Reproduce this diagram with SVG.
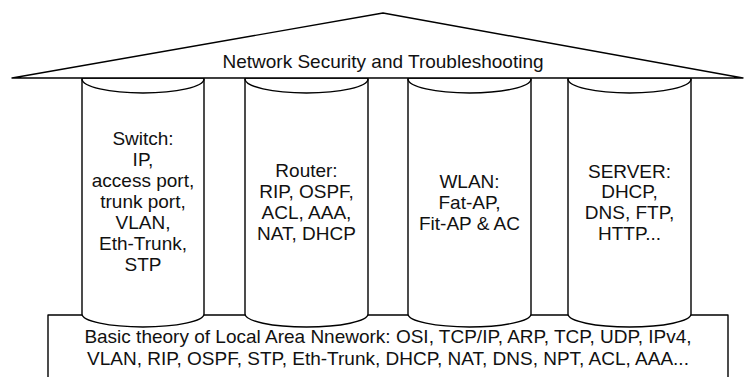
<svg xmlns="http://www.w3.org/2000/svg" width="745" height="377" viewBox="0 0 745 377">
<style>
.s{fill:#fff;stroke:#000;stroke-width:1.4;stroke-linejoin:round}
.a{fill:none;stroke:#000;stroke-width:1.4}
text{font-family:"Liberation Sans",Arial,sans-serif;font-size:19px;fill:#111;text-anchor:middle}
</style>
<rect width="745" height="377" fill="#fff"/>
<g id="base">
<rect class="s" x="48" y="315" width="680" height="80"/>
<text x="388" y="343">Basic theory of Local Area Nnework: OSI, TCP/IP, ARP, TCP, UDP, IPv4,</text>
<text x="388" y="365">VLAN, RIP, OSPF, STP, Eth-Trunk, DHCP, NAT, DNS, NPT, ACL, AAA...</text>
</g>
<g id="switch">
<path class="s" d="M82,78 L82,314 A61,13 0 0 0 204,314 L204,78 Z"/>
<path class="a" d="M82,79 A61,14 0 0 0 204,79"/>
<text x="143" y="145">Switch:</text>
<text x="143" y="166">IP,</text>
<text x="143" y="187">access port,</text>
<text x="143" y="208">trunk port,</text>
<text x="143" y="229">VLAN,</text>
<text x="143" y="250">Eth-Trunk,</text>
<text x="143" y="271">STP</text>
</g>
<g id="router">
<path class="s" d="M245,78 L245,314 A61.5,13 0 0 0 368,314 L368,78 Z"/>
<path class="a" d="M245,79 A61.5,14 0 0 0 368,79"/>
<text x="306.5" y="177">Router:</text>
<text x="306.5" y="198">RIP, OSPF,</text>
<text x="306.5" y="219">ACL, AAA,</text>
<text x="306.5" y="240">NAT, DHCP</text>
</g>
<g id="wlan">
<path class="s" d="M408,78 L408,314 A61.5,13 0 0 0 531,314 L531,78 Z"/>
<path class="a" d="M408,79 A61.5,14 0 0 0 531,79"/>
<text x="469.5" y="188">WLAN:</text>
<text x="469.5" y="209">Fat-AP,</text>
<text x="469.5" y="230">Fit-AP &amp; AC</text>
</g>
<g id="server">
<path class="s" d="M568,78 L568,314 A61.5,13 0 0 0 691,314 L691,78 Z"/>
<path class="a" d="M568,79 A61.5,14 0 0 0 691,79"/>
<text x="629.5" y="178">SERVER:</text>
<text x="629.5" y="198">DHCP,</text>
<text x="629.5" y="219">DNS, FTP,</text>
<text x="629.5" y="240">HTTP...</text>
</g>
<g id="roof">
<polygon class="s" points="12,78 383,13 743,78"/>
<text x="383" y="68">Network Security and Troubleshooting</text>
</g>
<g id="connectors"/>
</svg>
